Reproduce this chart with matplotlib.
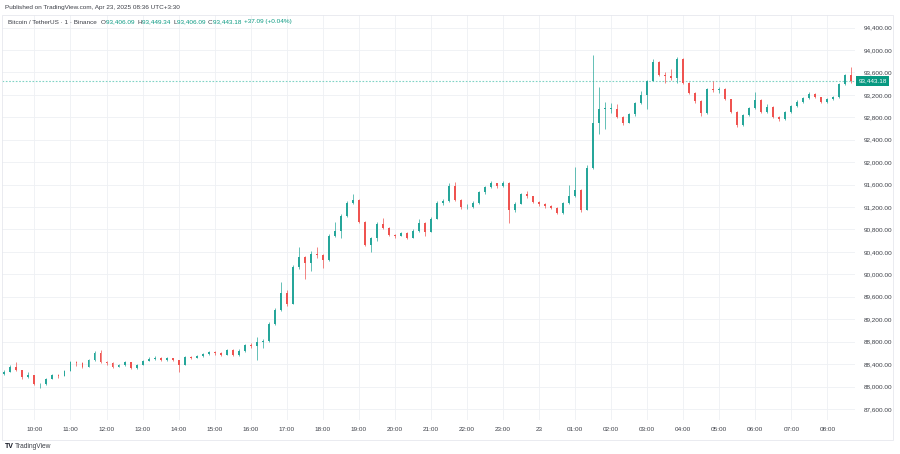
"""
plot.py

This module:
- Holds ten-minute BTC/USDT candles read off a TradingView screenshot
- Draws them as a candlestick chart in the TradingView light style
- Saves the result to out.png
"""

import numpy as np
import matplotlib
matplotlib.use('Agg')
import matplotlib.pyplot as plt
from matplotlib.patches import Rectangle

# candle centres, minutes after 10:00 on Apr 22
start_minute = -50
step_minutes = 10

first_open = 88230
closes = [
    88260, 88350, 88290, 88170, 88200, 88040, 88040, 88140, 88200, 88190,
    88280, 88440, 88420, 88350, 88470, 88600, 88440, 88420, 88350, 88380,
    88440, 88330, 88390, 88460, 88490, 88510, 88480, 88500, 88470, 88390,
    88525, 88510, 88540, 88580, 88610, 88600, 88570, 88650, 88560, 88640,
    88740, 88730, 88800, 88820, 89120, 89365, 89660, 89480, 90130, 90310,
    90200, 90360, 90340, 90250, 90690, 90780, 91040, 91270, 91330, 90940,
    90530, 90650, 90900, 90820, 90710, 90690, 90740, 90650, 90780, 90920,
    90760, 90990, 91270, 91300, 91580, 91325, 91200, 91200, 91270, 91460,
    91560, 91620, 91570, 91630, 91150, 91260, 91430, 91390, 91290, 91250,
    91210, 91190, 91095, 91270, 91400, 91505, 91150, 91900, 92700, 92950,
    92950, 92950, 92805, 92700, 92850, 93050, 93200, 93450, 93780, 93555,
    93540, 93500, 93840, 93420, 93240, 93090, 92870, 93300, 93280, 93300,
    93120, 92900, 92660, 92840, 92960, 93110, 92900, 92980, 92805, 92770,
    92890, 93000, 93075, 93140, 93220, 93160, 93080, 93130, 93160, 93390,
    93555, 93443.18,
]
highs = [
    88300, 88380, 88430, 88300, 88250, 88200, 88070, 88160, 88220, 88230,
    88300, 88460, 88460, 88440, 88490, 88640, 88650, 88460, 88430, 88400,
    88460, 88440, 88400, 88480, 88520, 88540, 88530, 88520, 88510, 88480,
    88540, 88550, 88560, 88600, 88630, 88640, 88610, 88670, 88660, 88660,
    88760, 88780, 88880, 88850, 89150, 89400, 89860, 89720, 90160, 90480,
    90320, 90420, 90480, 90360, 90720, 90930, 91070, 91300, 91430, 91340,
    90950, 90670, 90930, 91010, 90840, 90720, 90760, 90760, 90800, 90980,
    90930, 91020, 91300, 91340, 91620, 91650, 91340, 91250, 91300, 91480,
    91580, 91670, 91630, 91660, 91640, 91290, 91450, 91480, 91400, 91300,
    91270, 91230, 91200, 91290, 91600, 91920, 91520, 91950, 93910, 93340,
    93080, 93060, 93030, 92830, 92870, 93080, 93270, 93470, 93840, 93800,
    93600, 93660, 93880, 93850, 93430, 93250, 93100, 93330, 93450, 93340,
    93320, 93130, 92910, 92860, 92980, 93260, 93130, 93040, 93000, 92830,
    92910, 93020, 93100, 93170, 93250, 93240, 93170, 93150, 93180, 93410,
    93580, 93700,
]
lows = [
    88200, 88250, 88270, 88140, 88160, 88020, 87980, 88020, 88130, 88150,
    88180, 88270, 88370, 88330, 88340, 88460, 88420, 88390, 88330, 88340,
    88370, 88310, 88320, 88380, 88450, 88470, 88460, 88460, 88450, 88250,
    88380, 88490, 88500, 88530, 88570, 88570, 88540, 88560, 88540, 88550,
    88620, 88690, 88470, 88690, 88800, 89100, 89350, 89440, 89470, 90100,
    89920, 90060, 90300, 90120, 90230, 90670, 90650, 91020, 91250, 90920,
    90500, 90390, 90600, 90800, 90690, 90650, 90680, 90630, 90640, 90760,
    90680, 90750, 90980, 91230, 91290, 91300, 91170, 91170, 91190, 91260,
    91440, 91540, 91540, 91550, 90910, 91120, 91250, 91370, 91270, 91220,
    91190, 91160, 91070, 91080, 91250, 91380, 91120, 91140, 91880, 92500,
    92600, 92880, 92780, 92670, 92690, 92830, 93030, 92950, 93440, 93530,
    93410, 93470, 93420, 93390, 93220, 93060, 92830, 92850, 93250, 93230,
    93100, 92880, 92620, 92640, 92820, 92940, 92880, 92870, 92790, 92730,
    92760, 92870, 92980, 93060, 93130, 93140, 93050, 93060, 93110, 93140,
    93370, 93420,
]

hour_labels = ['10:00', '11:00', '12:00', '13:00', '14:00', '15:00', '16:00',
               '17:00', '18:00', '19:00', '20:00', '21:00', '22:00', '23:00',
               '23', '01:00', '02:00', '03:00', '04:00', '05:00', '06:00',
               '07:00', '08:00']
price_ticks = [87600, 88000, 88400, 88800, 89200, 89600, 90000, 90400, 90800,
               91200, 91600, 92000, 92400, 92800, 93200, 93600, 94000, 94400]

last_price = 93443.18
published = 'Published on TradingView.com, Apr 23, 2025 08:36 UTC+3:30'
symbol = 'Bitcoin / TetherUS · 1 · Binance'
ohlc_parts = [('O', '93,406.09'), ('H', '93,449.34'), ('L', '93,406.09'),
              ('C', '93,443.18')]
change_text = '+37.09 (+0.04%)'

UP = '#26a69a'
DOWN = '#ef5350'
TEXT = '#3c3f47'
FONT = 'Liberation Sans'
W, H = 900, 454


def px(x, y):
    """Figure pixel (from top left) to figure fraction."""
    return x / W, 1 - y / H


def draw_candles(ax):
    """Wicks as vlines, bodies as bars."""
    c = np.array(closes, dtype=float)
    o = np.concatenate([[first_open], c[:-1]])
    hi = np.maximum(np.array(highs, dtype=float), np.maximum(o, c))
    lo = np.minimum(np.array(lows, dtype=float), np.minimum(o, c))
    t = start_minute + step_minutes * np.arange(len(c))
    colors = np.where(c >= o, UP, DOWN)
    ax.vlines(t, lo, hi, colors=colors, lw=0.5, zorder=3)
    body = np.maximum(np.abs(c - o), 8)
    ax.bar(t, body, bottom=np.minimum(o, c), width=3.2, color=colors,
           lw=0, zorder=4)


def put_pieces(fig, x, y, pieces, size):
    """Write coloured text pieces one after another on a single line."""
    fig.canvas.draw()
    renderer = fig.canvas.get_renderer()
    for text, color in pieces:
        t = fig.text(*px(x, y), text, color=color, fontsize=size,
                     family=FONT, va='center', ha='left')
        x += t.get_window_extent(renderer).width + 0.6


def main():
    fig = plt.figure(figsize=(W / 100, H / 100), dpi=100)
    ax = fig.add_axes([2 / W, 1 - 420 / H, 853 / W, 405 / H])

    draw_candles(ax)
    ax.set_xlim(-54, 1366)
    ax.set_ylim(87403, 94624)

    ax.set_xticks(np.arange(len(hour_labels)) * 60)
    ax.set_xticklabels(hour_labels)
    ax.set_yticks(price_ticks)
    ax.set_yticklabels([f'{p:,.2f}' for p in price_ticks])
    ax.yaxis.tick_right()
    ax.tick_params(length=0, labelsize=4.6, labelcolor=TEXT)
    ax.tick_params(axis='y', pad=6)
    ax.tick_params(axis='x', pad=5)
    for lab in ax.get_xticklabels() + ax.get_yticklabels():
        lab.set_family(FONT)
    ax.grid(color='#eef0f4', lw=0.6, zorder=0)
    for s in ax.spines.values():
        s.set_visible(False)

    # last price line and tag
    ax.axhline(last_price, color='#7fd3c5', ls=(0, (1.5, 1.5)), lw=0.8,
               zorder=2)
    ax.annotate(f'{last_price:,.2f}', xy=(1.004, last_price),
                xycoords=('axes fraction', 'data'), ha='left', va='center',
                fontsize=4.6, family=FONT, color='white',
                bbox=dict(boxstyle='square,pad=0.35', fc='#089981', ec='none'),
                annotation_clip=False)

    # outer frame round chart and scales
    fig.patches.append(Rectangle(px(2, 440), 891 / W, 425 / H,
                                 transform=fig.transFigure, fill=False,
                                 ec='#e6e8ee', lw=0.6))

    fig.text(*px(5, 7), published, fontsize=4.6, family=FONT, color=TEXT,
             va='center')
    pieces = [(symbol + '  ', TEXT)]
    for k, v in ohlc_parts:
        pieces += [(k, TEXT), (v + ' ', '#089981')]
    pieces.append((change_text, '#089981'))
    put_pieces(fig, 8, 22, pieces, 4.6)

    fig.text(*px(5, 447), 'TV', fontsize=5, family=FONT, weight='bold',
             color='#131722', va='center')
    fig.text(*px(15, 447), 'TradingView', fontsize=4.8, family=FONT,
             color=TEXT, va='center')

    fig.savefig('out.png', dpi=100, facecolor='white')


if __name__ == "__main__":
    main()
